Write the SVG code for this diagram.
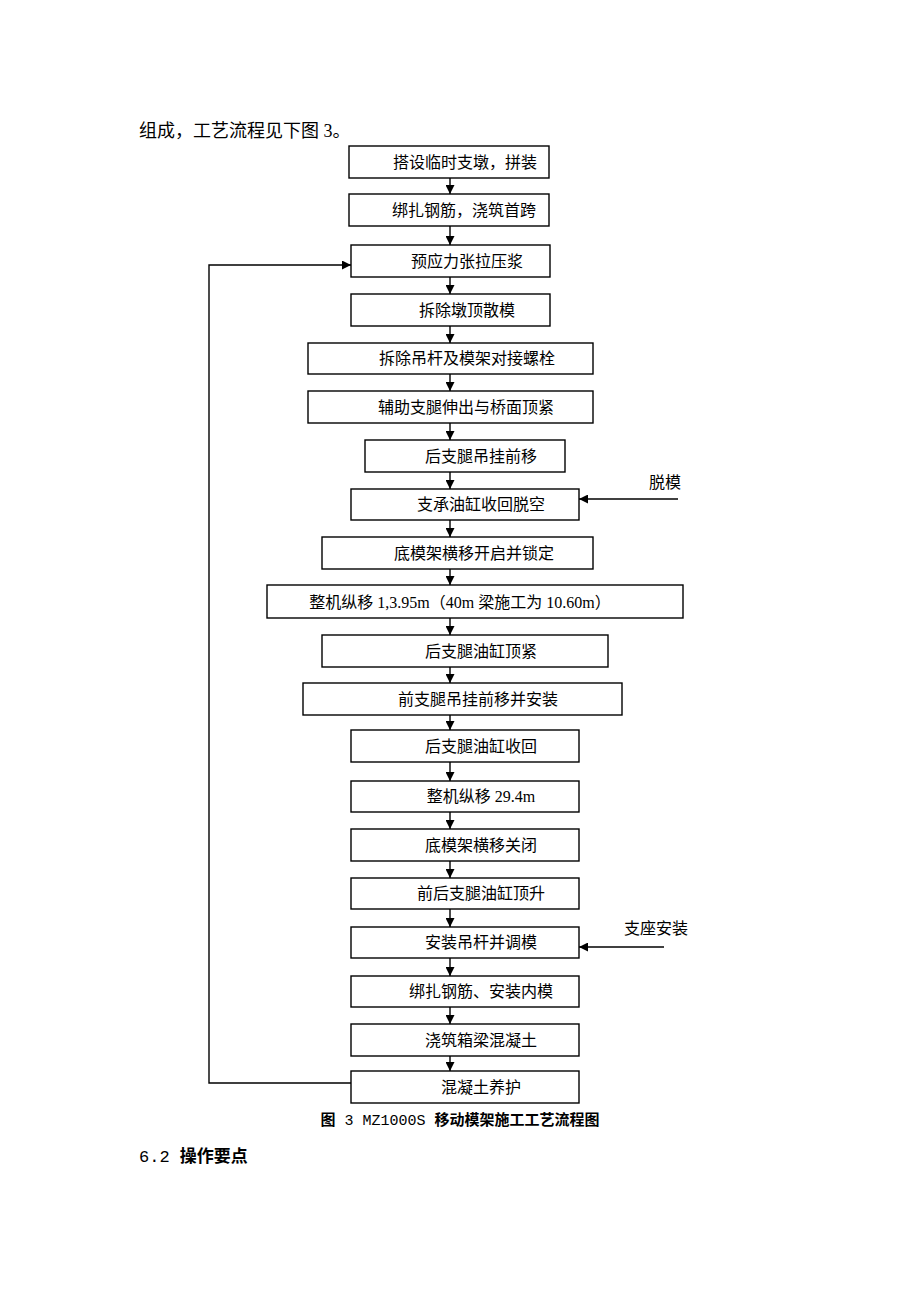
<svg xmlns="http://www.w3.org/2000/svg" width="920" height="1302" viewBox="0 0 920 1302">
<style>
.b{fill:#fff;stroke:#000;stroke-width:1.4}
.t{font-family:"Liberation Serif","Noto Sans CJK SC",serif;font-size:16px;fill:#000;text-anchor:middle}
.c{stroke:#000;stroke-width:1.4;fill:none}
.p{font-family:"Liberation Serif","Noto Sans CJK SC",serif;font-size:18px;fill:#000}
.cap{font-family:"Liberation Mono","Noto Sans CJK SC",monospace;font-size:15px;font-weight:bold;fill:#000}
.nb{font-weight:normal}
</style>
<defs>
<marker id="ah" markerUnits="userSpaceOnUse" markerWidth="9" markerHeight="9" refX="9" refY="4.5" orient="auto">
<path d="M0,0 L9,4.5 L0,9 z" fill="#000"/>
</marker>
</defs>
<rect width="920" height="1302" fill="#fff"/>
<text class="p" x="139" y="137">组成，工艺流程见下图 3。</text>
<g id="connectors">
<line class="c" x1="450" y1="178" x2="450" y2="194" marker-end="url(#ah)"/>
<line class="c" x1="450" y1="226" x2="450" y2="245" marker-end="url(#ah)"/>
<line class="c" x1="450" y1="277" x2="450" y2="294" marker-end="url(#ah)"/>
<line class="c" x1="450" y1="326" x2="450" y2="343" marker-end="url(#ah)"/>
<line class="c" x1="450" y1="374" x2="450" y2="391" marker-end="url(#ah)"/>
<line class="c" x1="450" y1="423" x2="450" y2="440" marker-end="url(#ah)"/>
<line class="c" x1="450" y1="472" x2="450" y2="489" marker-end="url(#ah)"/>
<line class="c" x1="450" y1="520" x2="450" y2="537" marker-end="url(#ah)"/>
<line class="c" x1="450" y1="569" x2="450" y2="585" marker-end="url(#ah)"/>
<line class="c" x1="450" y1="618" x2="450" y2="635" marker-end="url(#ah)"/>
<line class="c" x1="450" y1="667" x2="450" y2="683" marker-end="url(#ah)"/>
<line class="c" x1="450" y1="715" x2="450" y2="730" marker-end="url(#ah)"/>
<line class="c" x1="450" y1="762" x2="450" y2="781" marker-end="url(#ah)"/>
<line class="c" x1="450" y1="812" x2="450" y2="829" marker-end="url(#ah)"/>
<line class="c" x1="450" y1="861" x2="450" y2="878" marker-end="url(#ah)"/>
<line class="c" x1="450" y1="909" x2="450" y2="927" marker-end="url(#ah)"/>
<line class="c" x1="450" y1="958" x2="450" y2="976" marker-end="url(#ah)"/>
<line class="c" x1="450" y1="1007" x2="450" y2="1024" marker-end="url(#ah)"/>
<line class="c" x1="450" y1="1056" x2="450" y2="1071" marker-end="url(#ah)"/>
<polyline class="c" points="351,1083 209,1083 209,265 351,265" marker-end="url(#ah)"/>
<line class="c" x1="678" y1="499" x2="579" y2="499" marker-end="url(#ah)"/>
<line class="c" x1="664" y1="947" x2="579" y2="947" marker-end="url(#ah)"/>
</g>
<g id="n1"><rect class="b" x="349" y="146" width="200" height="32"/><text class="t" x="465" y="168">搭设临时支墩，拼装</text></g>
<g id="n2"><rect class="b" x="349" y="194" width="200" height="32"/><text class="t" x="464" y="216">绑扎钢筋，浇筑首跨</text></g>
<g id="n3"><rect class="b" x="351" y="245" width="199" height="32"/><text class="t" x="467" y="267">预应力张拉压浆</text></g>
<g id="n4"><rect class="b" x="351" y="294" width="199" height="32"/><text class="t" x="467" y="316">拆除墩顶散模</text></g>
<g id="n5"><rect class="b" x="308" y="343" width="285" height="31"/><text class="t" x="467" y="364">拆除吊杆及模架对接螺栓</text></g>
<g id="n6"><rect class="b" x="308" y="391" width="285" height="32"/><text class="t" x="466" y="413">辅助支腿伸出与桥面顶紧</text></g>
<g id="n7"><rect class="b" x="365" y="440" width="200" height="32"/><text class="t" x="481" y="462">后支腿吊挂前移</text></g>
<g id="n8"><rect class="b" x="351" y="489" width="228" height="31"/><text class="t" x="481" y="510">支承油缸收回脱空</text></g>
<g id="n9"><rect class="b" x="322" y="537" width="271" height="32"/><text class="t" x="474" y="559">底模架横移开启并锁定</text></g>
<g id="n10"><rect class="b" x="267" y="585" width="416" height="33"/><text class="t" x="460" y="608">整机纵移 1,3.95m（40m 梁施工为 10.60m）</text></g>
<g id="n11"><rect class="b" x="322" y="635" width="286" height="32"/><text class="t" x="481" y="657">后支腿油缸顶紧</text></g>
<g id="n12"><rect class="b" x="303" y="683" width="319" height="32"/><text class="t" x="478" y="705">前支腿吊挂前移并安装</text></g>
<g id="n13"><rect class="b" x="351" y="730" width="228" height="32"/><text class="t" x="481" y="752">后支腿油缸收回</text></g>
<g id="n14"><rect class="b" x="351" y="781" width="228" height="31"/><text class="t" x="481" y="802">整机纵移 29.4m</text></g>
<g id="n15"><rect class="b" x="351" y="829" width="228" height="32"/><text class="t" x="481" y="851">底模架横移关闭</text></g>
<g id="n16"><rect class="b" x="351" y="878" width="228" height="31"/><text class="t" x="481" y="899">前后支腿油缸顶升</text></g>
<g id="n17"><rect class="b" x="351" y="927" width="228" height="31"/><text class="t" x="481" y="948">安装吊杆并调模</text></g>
<g id="n18"><rect class="b" x="351" y="976" width="228" height="31"/><text class="t" x="481" y="997">绑扎钢筋、安装内模</text></g>
<g id="n19"><rect class="b" x="351" y="1024" width="228" height="32"/><text class="t" x="481" y="1046">浇筑箱梁混凝土</text></g>
<g id="n20"><rect class="b" x="351" y="1071" width="228" height="32"/><text class="t" x="481" y="1093">混凝土养护</text></g>
<text class="t" x="665" y="488">脱模</text>
<text class="t" x="656" y="934">支座安装</text>
<text class="cap" x="460" y="1125" text-anchor="middle">图<tspan class="nb"> 3 MZ1000S </tspan>移动模架施工工艺流程图</text>
<text x="139" y="1162" style="font-family:'Liberation Mono','Noto Sans CJK SC',monospace;font-size:17px;font-weight:bold;fill:#000"><tspan class="nb">6.2 </tspan>操作要点</text>
</svg>
